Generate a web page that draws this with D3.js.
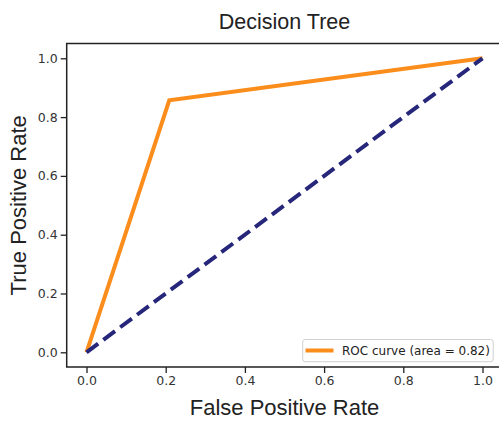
<!DOCTYPE html>
<html>
<head>
<meta charset="utf-8">
<script src="https://cdn.jsdelivr.net/npm/d3@7"></script>
<style>
  html, body { margin: 0; padding: 0; background: #fff; }
  svg { display: block; }
</style>
</head>
<body>
<script>
// ROC curve of the decision tree classifier
const rocFpr = [0.0, 0.209, 1.0];
const rocTpr = [0.0, 0.857, 1.0];
const chanceFpr = [0.0, 1.0];
const chanceTpr = [0.0, 1.0];
const xTicks = [0.0, 0.2, 0.4, 0.6, 0.8, 1.0];
const yTicks = [0.0, 0.2, 0.4, 0.6, 0.8, 1.0];
const rocArea = 0.82;
const titleText = "Decision Tree";
const xLabelText = "False Positive Rate";
const yLabelText = "True Positive Rate";

const W = 499, H = 424;
const plot = { left: 66.7, right: 502.3, top: 43.6, bottom: 367 };

const svg = d3.select("body").append("svg").attr("width", W).attr("height", H);

const x = d3.scaleLinear().domain([-0.05, 1.05]).range([plot.left, plot.right]);
const y = d3.scaleLinear().domain([-0.05, 1.05]).range([plot.bottom, plot.top]);

const tickFont = "'DejaVu Sans', sans-serif";
const labelFont = "'Liberation Sans', Arial, sans-serif";

// x axis
const xAxis = svg.append("g")
  .attr("transform", `translate(0,${plot.bottom})`)
  .call(d3.axisBottom(x).tickValues(xTicks).tickFormat(d3.format(".1f")).tickSizeOuter(0).tickSize(6).tickPadding(3));
xAxis.select(".domain").remove();
xAxis.selectAll(".tick line").attr("stroke", "#222").attr("stroke-width", 1.3);
xAxis.selectAll(".tick text").attr("font-family", tickFont).attr("font-size", 12.5).attr("fill", "#333");

// y axis
const yAxis = svg.append("g")
  .attr("transform", `translate(${plot.left},0)`)
  .call(d3.axisLeft(y).tickValues(yTicks).tickFormat(d3.format(".1f")).tickSizeOuter(0).tickSize(6).tickPadding(3));
yAxis.select(".domain").remove();
yAxis.selectAll(".tick line").attr("stroke", "#222").attr("stroke-width", 1.3);
yAxis.selectAll(".tick text").attr("font-family", tickFont).attr("font-size", 12.5).attr("fill", "#333");

// data lines
const clipId = "plot-clip";
svg.append("clipPath").attr("id", clipId).append("rect")
  .attr("x", plot.left).attr("y", plot.top - 3)
  .attr("width", plot.right - plot.left).attr("height", plot.bottom - plot.top + 3);

const line = d3.line().x(d => x(d[0])).y(d => y(d[1]));

svg.append("path")
  .datum(d3.zip(rocFpr, rocTpr))
  .attr("d", line)
  .attr("fill", "none")
  .attr("stroke", "#fa8d1c")
  .attr("stroke-width", 4)
  .attr("stroke-linejoin", "miter");

svg.append("path")
  .datum(d3.zip(chanceFpr, chanceTpr))
  .attr("d", line)
  .attr("fill", "none")
  .attr("stroke", "#26267a")
  .attr("stroke-width", 4)
  .attr("stroke-dasharray", "14.5,6.5");

// spines
svg.append("path")
  .attr("d", `M${plot.right},${plot.top}H${plot.left}V${plot.bottom}H${plot.right}`)
  .attr("fill", "none").attr("stroke", "#222").attr("stroke-width", 1.5);

// title and axis labels
svg.append("text")
  .attr("x", (plot.left + plot.right) / 2).attr("y", 28.5)
  .attr("text-anchor", "middle")
  .attr("font-family", labelFont).attr("font-size", 21.5).attr("fill", "#222")
  .text(titleText);

svg.append("text")
  .attr("x", (plot.left + plot.right) / 2).attr("y", 415)
  .attr("text-anchor", "middle")
  .attr("font-family", labelFont).attr("font-size", 22).attr("fill", "#222")
  .text(xLabelText);

svg.append("text")
  .attr("transform", `translate(26,${(plot.top + plot.bottom) / 2}) rotate(-90)`)
  .attr("text-anchor", "middle")
  .attr("font-family", labelFont).attr("font-size", 22).attr("fill", "#222")
  .text(yLabelText);

// legend
const leg = svg.append("g");
leg.append("rect")
  .attr("x", 302.7).attr("y", 339.5).attr("width", 190.5).attr("height", 22.2)
  .attr("rx", 2.5).attr("fill", "#fff").attr("fill-opacity", 0.85)
  .attr("stroke", "#d0d0d0").attr("stroke-width", 1);
leg.append("line")
  .attr("x1", 305.5).attr("x2", 333.5).attr("y1", 350.5).attr("y2", 350.5)
  .attr("stroke", "#fa8d1c").attr("stroke-width", 4);
leg.append("text")
  .attr("x", 342).attr("y", 355)
  .attr("font-family", tickFont).attr("font-size", 12).attr("fill", "#222")
  .text(`ROC curve (area = ${rocArea.toFixed(2)})`);
</script>
</body>
</html>
